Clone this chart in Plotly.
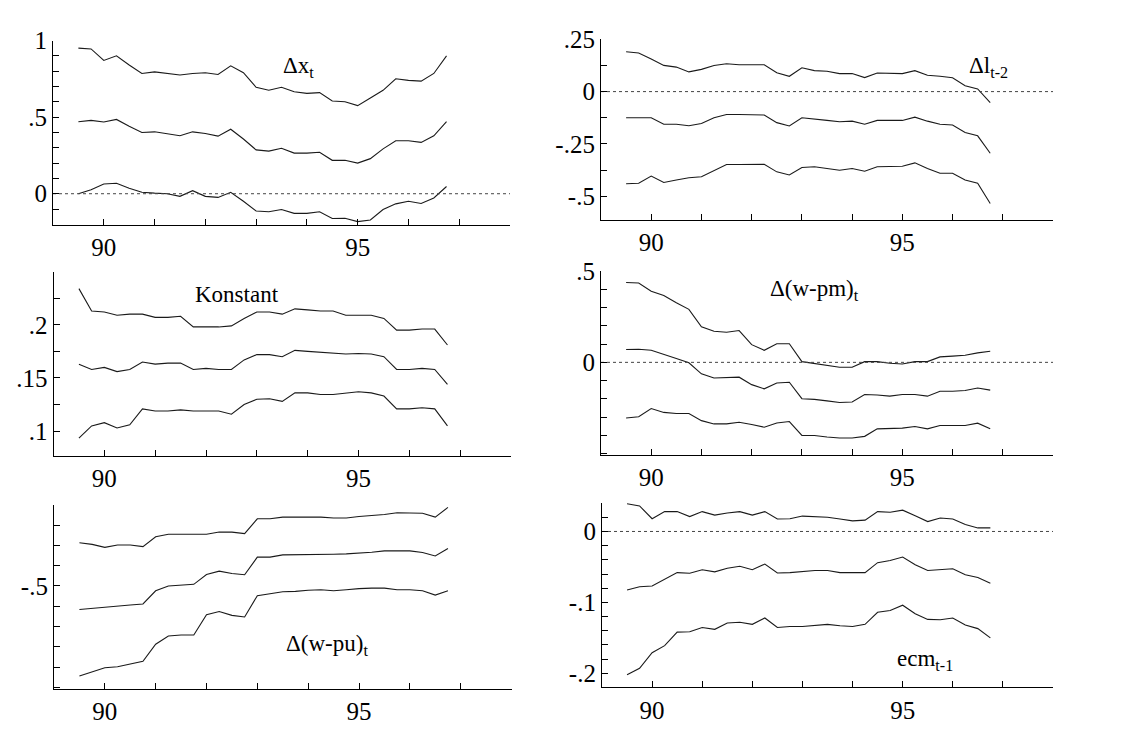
import plotly.graph_objects as go

W, H = 1135, 729

# quarterly time axis 1989Q3 .. 1996Q4
quarters = [89.5 + 0.25 * i for i in range(30)]

# ---- panel data (upper band, estimate, lower band) ----
dx_up = [0.95, 0.945, 0.87, 0.90, 0.84, 0.785, 0.795, 0.785, 0.775, 0.785, 0.79, 0.778, 0.835, 0.79, 0.695,
         0.675, 0.695, 0.665, 0.655, 0.66, 0.605, 0.60, 0.575, 0.625, 0.675, 0.75, 0.74, 0.735, 0.785, 0.90]
dx_mid = [0.47, 0.479, 0.468, 0.485, 0.44, 0.40, 0.404, 0.393, 0.378, 0.404, 0.393, 0.376, 0.421, 0.357, 0.286,
          0.278, 0.297, 0.265, 0.265, 0.271, 0.218, 0.218, 0.20, 0.229, 0.293, 0.346, 0.346, 0.335, 0.378, 0.47]
dx_lo = [0.0, 0.026, 0.064, 0.068, 0.036, 0.01, 0.004, 0.0, -0.017, 0.02, -0.017, -0.024, 0.009, -0.049, -0.113,
         -0.118, -0.103, -0.128, -0.128, -0.118, -0.162, -0.16, -0.182, -0.171, -0.103, -0.066, -0.049, -0.064, -0.028, 0.047]

dl_up = [0.19, 0.184, 0.156, 0.125, 0.117, 0.094, 0.106, 0.125, 0.133, 0.128, 0.128, 0.128, 0.09, 0.073, 0.114,
         0.10, 0.097, 0.086, 0.086, 0.067, 0.089, 0.086, 0.086, 0.10, 0.078, 0.073, 0.066, 0.028, 0.0125, -0.052]
dl_mid = [-0.125, -0.125, -0.125, -0.156, -0.156, -0.163, -0.152, -0.125, -0.109, -0.109, -0.109, -0.112, -0.148, -0.164, -0.125,
          -0.133, -0.1375, -0.144, -0.141, -0.156, -0.1375, -0.1375, -0.1375, -0.122, -0.141, -0.156, -0.159, -0.195, -0.211, -0.294]
dl_lo = [-0.44, -0.4375, -0.403, -0.434, -0.422, -0.411, -0.406, -0.375, -0.348, -0.348, -0.348, -0.347, -0.383, -0.398, -0.3625,
         -0.359, -0.367, -0.375, -0.367, -0.38, -0.359, -0.359, -0.356, -0.34, -0.367, -0.39, -0.39, -0.422, -0.4375, -0.534]

k_up = [0.234, 0.213, 0.212, 0.209, 0.21, 0.21, 0.207, 0.207, 0.208, 0.198, 0.198, 0.198, 0.199, 0.206, 0.212,
        0.212, 0.21, 0.215, 0.214, 0.213, 0.213, 0.209, 0.209, 0.209, 0.206, 0.195, 0.195, 0.196, 0.196, 0.181]
k_mid = [0.163, 0.158, 0.16, 0.156, 0.158, 0.165, 0.163, 0.164, 0.164, 0.158, 0.159, 0.158, 0.158, 0.167, 0.172,
         0.172, 0.17, 0.176, 0.175, 0.174, 0.173, 0.1725, 0.173, 0.1725, 0.17, 0.158, 0.158, 0.159, 0.158, 0.144]
k_lo = [0.0935, 0.105, 0.108, 0.103, 0.106, 0.121, 0.119, 0.119, 0.12, 0.119, 0.119, 0.119, 0.116, 0.125, 0.13,
        0.1305, 0.128, 0.136, 0.136, 0.1345, 0.1345, 0.136, 0.137, 0.136, 0.133, 0.121, 0.121, 0.122, 0.121, 0.105]

pm_up = [0.437, 0.434, 0.389, 0.366, 0.326, 0.29, 0.195, 0.17, 0.165, 0.174, 0.097, 0.066, 0.102, 0.102, 0.004,
         -0.005, -0.014, -0.027, -0.027, 0.004, 0.004, -0.005, -0.009, 0.004, 0.004, 0.03, 0.034, 0.039, 0.052, 0.061]
pm_mid = [0.07, 0.072, 0.066, 0.045, 0.0215, -0.002, -0.063, -0.086, -0.082, -0.081, -0.122, -0.145, -0.113, -0.109, -0.199,
          -0.2025, -0.211, -0.22, -0.217, -0.176, -0.179, -0.185, -0.176, -0.176, -0.185, -0.158, -0.158, -0.154, -0.14, -0.152]
pm_lo = [-0.305, -0.2975, -0.253, -0.274, -0.28, -0.28, -0.319, -0.337, -0.337, -0.328, -0.34, -0.355, -0.3315, -0.324, -0.40,
         -0.40, -0.409, -0.414, -0.414, -0.405, -0.364, -0.364, -0.36, -0.351, -0.364, -0.346, -0.346, -0.346, -0.333, -0.364]

pu_up = [-0.287, -0.295, -0.31, -0.298, -0.298, -0.306, -0.258, -0.245, -0.245, -0.245, -0.245, -0.234, -0.235, -0.242, -0.169,
         -0.169, -0.161, -0.161, -0.161, -0.161, -0.165, -0.165, -0.158, -0.153, -0.148, -0.139, -0.139, -0.142, -0.161, -0.113]
pu_mid = [-0.616, -0.61, -0.605, -0.597, -0.594, -0.589, -0.524, -0.5, -0.497, -0.492, -0.444, -0.427, -0.439, -0.445, -0.358,
          -0.358, -0.347, -0.347, -0.344, -0.344, -0.344, -0.342, -0.339, -0.334, -0.327, -0.327, -0.327, -0.335, -0.352, -0.316]
pu_lo = [-0.944, -0.923, -0.903, -0.898, -0.884, -0.871, -0.787, -0.747, -0.742, -0.742, -0.642, -0.626, -0.645, -0.653, -0.548,
         -0.54, -0.529, -0.527, -0.521, -0.519, -0.524, -0.519, -0.513, -0.511, -0.511, -0.519, -0.519, -0.524, -0.545, -0.524]

ecm_up = [0.039, 0.036, 0.018, 0.028, 0.028, 0.021, 0.028, 0.023, 0.026, 0.028, 0.023, 0.028, 0.0175, 0.018, 0.0217,
          0.021, 0.02, 0.0175, 0.015, 0.016, 0.028, 0.027, 0.030, 0.022, 0.014, 0.019, 0.0175, 0.0097, 0.005, 0.005]
ecm_mid = [-0.0825, -0.078, -0.077, -0.068, -0.058, -0.059, -0.054, -0.057, -0.052, -0.049, -0.054, -0.046, -0.0585, -0.058, -0.056,
           -0.055, -0.055, -0.058, -0.058, -0.058, -0.044, -0.041, -0.036, -0.047, -0.055, -0.054, -0.0525, -0.061, -0.065, -0.073]
ecm_lo = [-0.202, -0.193, -0.171, -0.161, -0.142, -0.1415, -0.1355, -0.138, -0.129, -0.128, -0.131, -0.122, -0.1355, -0.134, -0.134,
          -0.132, -0.131, -0.133, -0.134, -0.131, -0.114, -0.1115, -0.104, -0.116, -0.124, -0.1245, -0.122, -0.132, -0.137, -0.15]

# ---- axis ticks: labelled (major) and unlabelled (minor) ----
x_tickvals = [90, 95]
x_ticktext = ["90", "95"]
x_minor = list(range(89, 99))

dx_tickvals, dx_ticktext = [0.0, 0.5, 1.0], ["0", ".5", "1"]
dx_minor = [-0.2, -0.1, 0.0, 0.1, 0.2, 0.3, 0.4, 0.5, 0.6, 0.7, 0.8, 0.9, 1.0]
dl_tickvals, dl_ticktext = [-0.5, -0.25, 0.0, 0.25], ["-.5", "-.25", "0", ".25"]
dl_minor = [-0.5, -0.375, -0.25, -0.125, 0.0, 0.125, 0.25]
k_tickvals, k_ticktext = [0.1, 0.15, 0.2], [".1", ".15", ".2"]
k_minor = [0.1, 0.125, 0.15, 0.175, 0.2, 0.225, 0.25]
pm_tickvals, pm_ticktext = [0.0, 0.5], ["0", ".5"]
pm_minor = [-0.5, -0.4, -0.3, -0.2, -0.1, 0.0, 0.1, 0.2, 0.3, 0.4, 0.5]
pu_tickvals, pu_ticktext = [-0.5], ["-.5"]
pu_minor = [-1.0, -0.9, -0.8, -0.7, -0.6, -0.5, -0.4, -0.3, -0.2, -0.1]
ecm_tickvals, ecm_ticktext = [-0.2, -0.1, 0.0], ["-.2", "-.1", "0"]
ecm_minor = [-0.22, -0.2, -0.18, -0.16, -0.14, -0.12, -0.1, -0.08, -0.06, -0.04, -0.02, 0.0, 0.02, 0.04]

titles = ["Δx<sub>t</sub>", "Δl<sub>t-2</sub>", "Konstant", "Δ(w-pm)<sub>t</sub>", "Δ(w-pu)<sub>t</sub>", "ecm<sub>t-1</sub>"]

panels = [
    dict(data=(dx_up, dx_mid, dx_lo), px=(53, 510), py=(28, 216), yr=(-0.205, 1.0), tv=dx_tickvals, tt=dx_ticktext,
         mv=dx_minor, zero=True, title_xy=(298, 55)),
    dict(data=(dl_up, dl_mid, dl_lo), px=(601, 1053), py=(26.7, 210.7), yr=(-0.6125, 0.25), tv=dl_tickvals, tt=dl_ticktext,
         mv=dl_minor, zero=True, title_xy=(988, 55)),
    dict(data=(k_up, k_mid, k_lo), px=(53.5, 511), py=(263.3, 450.7), yr=(0.077, 0.25), tv=k_tickvals, tt=k_ticktext,
         mv=k_minor, zero=False, title_xy=(237, 287)),
    dict(data=(pm_up, pm_mid, pm_lo), px=(601, 1053), py=(262.7, 450), yr=(-0.507, 0.5), tv=pm_tickvals, tt=pm_ticktext,
         mv=pm_minor, zero=True, title_xy=(814, 282)),
    dict(data=(pu_up, pu_mid, pu_lo), px=(54, 511.5), py=(500.7, 688.3), yr=(-1.008, -0.1), tv=pu_tickvals, tt=pu_ticktext,
         mv=pu_minor, zero=False, title_xy=(327, 643)),
    dict(data=(ecm_up, ecm_mid, ecm_lo), px=(602, 1053), py=(499, 686.7), yr=(-0.22, 0.04), tv=ecm_tickvals, tt=ecm_ticktext,
         mv=ecm_minor, zero=True, title_xy=(925, 659)),
]

FONT = "Liberation Serif, 'Times New Roman', Times, serif"
fig = go.Figure()
layout = dict(
    width=W, height=H, margin=dict(l=0, r=0, t=0, b=0),
    paper_bgcolor="white", plot_bgcolor="white", showlegend=False,
    font=dict(family=FONT, color="black"),
)
annotations = []
for i, p in enumerate(panels, start=1):
    xa = "x" if i == 1 else f"x{i}"
    ya = "y" if i == 1 else f"y{i}"
    for series in p["data"]:
        fig.add_trace(go.Scatter(x=quarters, y=series, mode="lines", xaxis=xa, yaxis=ya,
                                 line=dict(color="#1a1a1a", width=1.1), hoverinfo="skip"))
    if p["zero"]:
        fig.add_trace(go.Scatter(x=[89, 98], y=[0, 0], mode="lines", xaxis=xa, yaxis=ya,
                                 line=dict(color="#444", width=1, dash="dot"), hoverinfo="skip"))
    x0, x1 = p["px"]
    yt, yb = p["py"]
    common = dict(ticks="inside", ticklen=6, tickcolor="black", tickwidth=1,
                  showline=True, linecolor="black", linewidth=1.2, showgrid=False, zeroline=False,
                  tickfont=dict(family=FONT, size=25, color="black"))
    layout["xaxis" if i == 1 else f"xaxis{i}"] = dict(
        domain=[x0 / W, x1 / W], anchor=ya, range=[89, 98],
        tickmode="array", tickvals=x_tickvals, ticktext=x_ticktext,
        minor=dict(tickmode="array", tickvals=x_minor, ticks="inside", ticklen=6, tickcolor="black", showgrid=False),
        **common,
    )
    layout["yaxis" if i == 1 else f"yaxis{i}"] = dict(
        domain=[1 - yb / H, 1 - yt / H], anchor=xa, range=list(p["yr"]),
        tickmode="array", tickvals=p["tv"], ticktext=p["tt"],
        minor=dict(tickmode="array", tickvals=p["mv"], ticks="inside", ticklen=6, tickcolor="black", showgrid=False),
        **common,
    )
    tx, ty = p["title_xy"]
    annotations.append(dict(text=titles[i - 1], x=tx / W, y=1 - ty / H, xref="paper", yref="paper",
                            showarrow=False, xanchor="center", yanchor="middle",
                            font=dict(family=FONT, size=23, color="black")))
layout["annotations"] = annotations
fig.update_layout(**layout)
fig.write_html("out.html")
